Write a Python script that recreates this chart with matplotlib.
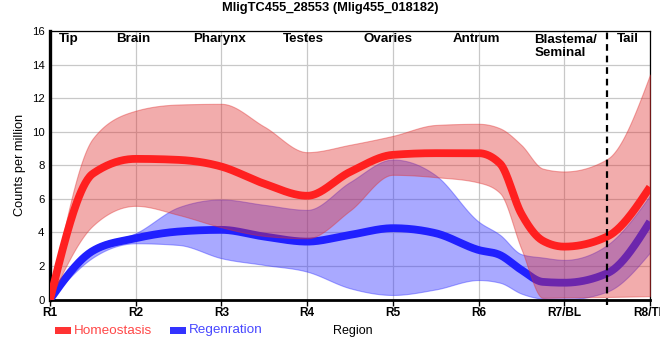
import numpy as np
import matplotlib
matplotlib.use("Agg")
import matplotlib.pyplot as plt
from matplotlib.patches import Rectangle

plt.rcParams['font.family'] = ['Liberation Sans', 'DejaVu Sans']

# ---------------- data ----------------
tick_labels = ['R1', 'R2', 'R3', 'R4', 'R5', 'R6', 'R7/BL', 'R8/TL']
tick_pos = [1, 2, 3, 4, 5, 6, 7, 8]
sample_pos = [1, 1.5, 2, 2.5, 3, 3.5, 4, 4.5, 5, 5.5, 6, 6.25, 6.5, 6.75, 7, 7.5, 8]

homeo_mean = [0, 7.5, 8.38, 8.32, 7.92, 6.9, 6.18, 7.6, 8.62, 8.72, 8.72, 8.1, 5.1, 3.5, 3.15, 3.75, 6.7]
homeo_upper = [0, 9.6, 11.25, 11.62, 11.66, 10.3, 8.78, 9.22, 9.75, 10.4, 10.47, 10.2, 9.2, 7.8, 7.63, 8.37, 13.4]
homeo_lower = [0, 4.4, 5.58, 5.04, 4.3, 3.79, 3.65, 5.3, 7.43, 7.29, 6.97, 6.34, 3.0, 0.1, 0.12, 0.15, 0.2]

regen_mean = [0, 2.9, 3.65, 4.05, 4.15, 3.75, 3.45, 3.85, 4.25, 3.95, 2.95, 2.65, 1.76, 1.05, 1.0, 1.56, 4.64]
regen_upper = [0, 3.1, 3.95, 5.5, 5.96, 5.64, 5.34, 7.0, 8.34, 7.4, 4.64, 3.85, 2.7, 2.5, 2.36, 3.25, 6.2]
regen_lower = [0, 2.5, 3.35, 3.25, 2.46, 2.06, 1.66, 0.67, 0.27, 0.6, 1.16, 1.0, 0.35, 0.05, 0.0, 0.47, 2.8]

region_names = ['Tip', 'Brain', 'Pharynx', 'Testes', 'Ovaries', 'Antrum', 'Blastema/\nSeminal', 'Tail']
region_name_x = [1.22, 1.97, 2.98, 3.96, 4.94, 5.98, 6.65, 7.74]
region_name_ha = ['center'] * 6 + ['left', 'center']
tail_boundary = 7.5

title = 'MligTC455_28553 (Mlig455_018182)'
series_names = ['Homeostasis', 'Regenration']


def monotone_x(xs, ys, n=40):
    """Monotone cubic interpolation (same as d3.curveMonotoneX)."""
    xs = np.asarray(xs, float)
    ys = np.asarray(ys, float)
    h = np.diff(xs)
    s = np.diff(ys) / h
    m = np.zeros_like(ys)
    for i in range(1, len(xs) - 1):
        p = (s[i - 1] * h[i] + s[i] * h[i - 1]) / (h[i - 1] + h[i])
        m[i] = (np.sign(s[i - 1]) + np.sign(s[i])) * min(abs(s[i - 1]), abs(s[i]), 0.5 * abs(p))
    m[0] = (3 * s[0] - m[1]) / 2
    m[-1] = (3 * s[-1] - m[-2]) / 2
    out_x, out_y = [], []
    for i in range(len(xs) - 1):
        t = np.linspace(0, 1, n, endpoint=(i == len(xs) - 2))
        h00 = 2 * t**3 - 3 * t**2 + 1
        h10 = t**3 - 2 * t**2 + t
        h01 = -2 * t**3 + 3 * t**2
        h11 = t**3 - t**2
        out_x.append(xs[i] + t * h[i])
        out_y.append(h00 * ys[i] + h10 * h[i] * m[i] + h01 * ys[i + 1] + h11 * h[i] * m[i + 1])
    return np.concatenate(out_x), np.concatenate(out_y)


W, H = 660, 360
fig = plt.figure(figsize=(W / 100, H / 100), dpi=100)
ax = fig.add_axes([50 / W, 1 - 299.5 / H, 600 / W, 268.5 / H])

red_fill = '#e03030'
blue_fill = '#3333ff'
red_line = '#ff2020'
blue_line = '#2020ff'

xb, yb_hi = monotone_x(sample_pos, regen_upper)
_, yb_lo = monotone_x(sample_pos, regen_lower)
_, yb_m = monotone_x(sample_pos, regen_mean)
xr, yr_hi = monotone_x(sample_pos, homeo_upper)
_, yr_lo = monotone_x(sample_pos, homeo_lower)
_, yr_m = monotone_x(sample_pos, homeo_mean)

ax.fill_between(xb, yb_lo, yb_hi, color=blue_fill, alpha=0.42, lw=0.8, zorder=2)
ax.plot(xb, yb_m, color=blue_line, lw=5.6, solid_capstyle='butt', zorder=3)
ax.fill_between(xr, yr_lo, yr_hi, color=red_fill, alpha=0.4, lw=0.8, zorder=4)
ax.plot(xr, yr_m, color=red_line, lw=5.6, solid_capstyle='butt', zorder=5)

ax.plot([tail_boundary, tail_boundary], [-0.35, 16], color='black', lw=1.6,
        dashes=(3, 2.2), zorder=6, clip_on=False)

ax.set_xlim(1, 8)
ax.set_ylim(0, 16)
ax.set_xticks(tick_pos)
ax.set_xticklabels(tick_labels, fontweight='bold', fontsize=8.6)
ax.set_yticks(np.arange(0, 17, 2))
ax.tick_params(axis='y', length=0, labelsize=8.2, pad=4)
ax.tick_params(axis='x', length=4, width=1, pad=1.5)
ax.grid(True, color='#c8c8c8', lw=0.9, zorder=0)
ax.set_axisbelow(True)

for side, lw in [('left', 2.4), ('bottom', 2.0), ('top', 0.9), ('right', 0.9)]:
    ax.spines[side].set_linewidth(lw)
    ax.spines[side].set_color('black')

for name, xpos, ha in zip(region_names, region_name_x, region_name_ha):
    yv = 15.5 if '\n' not in name else 15.07
    ax.text(xpos, yv, name, ha=ha, va='center', fontweight='bold', fontsize=9.6,
            linespacing=1.1, zorder=7)

fig.text(330.5 / W, 1 - 8 / H, title, ha='center', va='center', fontweight='bold', fontsize=9.3)
fig.text(20 / W, 1 - 165 / H, 'Counts per million', rotation=90, ha='center', va='center', fontsize=9.2)
fig.text(333 / W, 1 - 331 / H, 'Region', ha='left', va='center', fontsize=9)

# legend
legend_items = [(series_names[0], '#ff3333', '#ff4848', 55), (series_names[1], '#3333ff', '#4848ff', 170)]
for label, pc, tc, px in legend_items:
    fig.patches.append(Rectangle((px / W, 1 - 334 / H), 16 / W, 7 / H, transform=fig.transFigure,
                                 facecolor=pc, edgecolor='none'))
    fig.text((px + 19) / W, 1 - 330.5 / H, label, ha='left', va='center', fontsize=9.7, color=tc)

fig.savefig('out.png', dpi=100)
